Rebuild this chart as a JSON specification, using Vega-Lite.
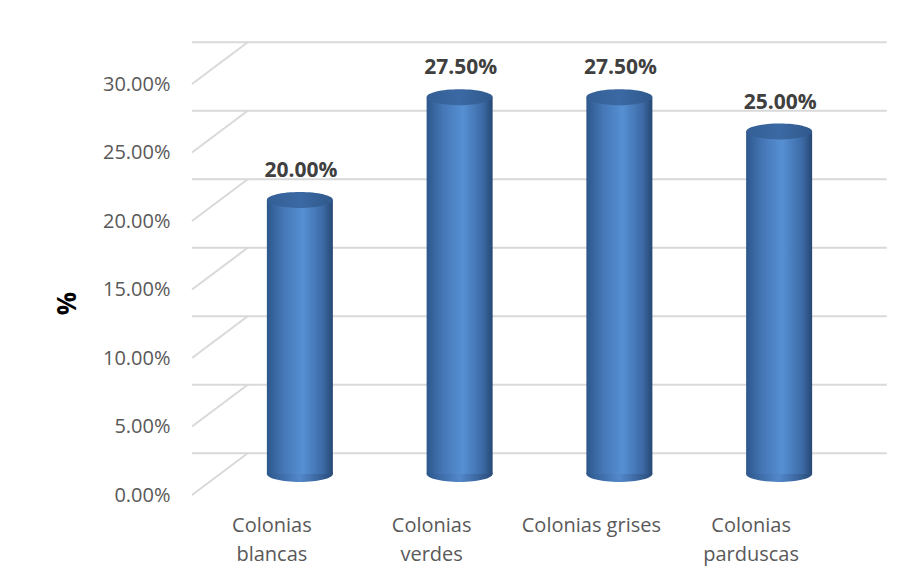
{
  "$schema": "https://vega.github.io/schema/vega-lite/v6.json",
  "width": 639,
  "height": 411,
  "autosize": {"type": "none"},
  "padding": {"left": 192, "top": 84, "right": 92, "bottom": 89},
  "background": "white",
  "config": {"view": {"stroke": null}, "font": "Open Sans"},
  "datasets": {
    "bars": [
      {"categoria": "Colonias blancas", "pct": 0.20},
      {"categoria": "Colonias verdes", "pct": 0.275},
      {"categoria": "Colonias grises", "pct": 0.275},
      {"categoria": "Colonias parduscas", "pct": 0.25}
    ],
    "ticks": [
      {"v": 0}, {"v": 0.05}, {"v": 0.10}, {"v": 0.15}, {"v": 0.20}, {"v": 0.25}, {"v": 0.30}
    ]
  },
  "layer": [
    {
      "data": {"name": "ticks"},
      "mark": {"type": "rule", "color": "#d9d9d9", "strokeWidth": 2, "yOffset": -41.7, "xOffset": 55.7},
      "encoding": {
        "y": {"field": "v", "type": "quantitative", "scale": {"domain": [0, 0.3], "nice": false}, "axis": {
          "values": [0, 0.05, 0.1, 0.15, 0.2, 0.25, 0.3],
          "format": ".2%",
          "grid": false, "domain": false, "ticks": false,
          "labelFontSize": 20, "labelColor": "#595959", "labelPadding": 22,
          "title": "%", "titleFontSize": 26, "titleFontWeight": "bold", "titleColor": "#000000",
          "titleX": -125, "titleY": 219, "titleAlign": "center", "titleBaseline": "middle", "titleAngle": -90
        }}
      }
    },
    {
      "data": {"name": "ticks"},
      "mark": {"type": "rule", "color": "#d9d9d9", "strokeWidth": 2, "y2Offset": -41.7},
      "encoding": {
        "x": {"value": 0},
        "x2": {"value": 55.7},
        "y": {"field": "v", "type": "quantitative"},
        "y2": {"field": "v"}
      }
    },
    {
      "data": {"name": "bars"},
      "encoding": {
        "x": {"field": "categoria", "type": "nominal", "sort": null,
          "scale": {"paddingInner": 0, "paddingOuter": 0},
          "axis": {
            "title": null, "domain": false, "ticks": false, "labelAngle": 0,
            "labelFontSize": 20, "labelColor": "#595959", "labelPadding": 20,
            "labelLineHeight": 29,
            "labelExpr": "datum.label == 'Colonias grises' ? datum.label : split(datum.label, ' ')"
          }
        }
      },
      "layer": [
        {
          "mark": {"type": "point", "filled": true, "opacity": 1, "size": 4356, "xOffset": 28, "yOffset": -21,
            "shape": "M -1 0 A 1 0.24 0 1 0 1 0 A 1 0.24 0 1 0 -1 0 Z",
            "color": {"gradient": "linear", "x1": 0, "x2": 1, "y1": 0, "y2": 0, "stops": [
              {"offset": 0, "color": "#2d578c"}, {"offset": 0.5, "color": "#5288cb"}, {"offset": 1, "color": "#284a78"}]}},
          "encoding": {"y": {"datum": 0, "type": "quantitative"}}
        },
        {
          "mark": {"type": "bar", "size": 66, "xOffset": 28, "yOffset": -21, "y2Offset": -21,
            "color": {"gradient": "linear", "x1": 0, "x2": 1, "y1": 0, "y2": 0, "stops": [
              {"offset": 0, "color": "#2d578c"}, {"offset": 0.25, "color": "#4577b6"}, {"offset": 0.55, "color": "#5690d3"}, {"offset": 0.85, "color": "#3c6aa6"}, {"offset": 1, "color": "#274874"}]}},
          "encoding": {
            "y": {"field": "pct", "type": "quantitative"},
            "y2": {"datum": 0}
          }
        },
        {
          "mark": {"type": "point", "filled": true, "opacity": 1, "size": 4356, "xOffset": 28, "yOffset": -21,
            "shape": "M -1 0 A 1 0.24 0 1 0 1 0 A 1 0.24 0 1 0 -1 0 Z",
            "color": {"gradient": "linear", "x1": 0, "x2": 1, "y1": 0, "y2": 0, "stops": [
              {"offset": 0, "color": "#345f96"}, {"offset": 0.5, "color": "#3b69a3"}, {"offset": 1, "color": "#30598c"}]}},
          "encoding": {"y": {"field": "pct", "type": "quantitative"}}
        },
        {
          "mark": {"type": "text", "xOffset": 29, "yOffset": -50, "baseline": "middle", "align": "center",
            "fontSize": 21, "fontWeight": "bold", "color": "#404040"},
          "encoding": {
            "y": {"field": "pct", "type": "quantitative"},
            "text": {"field": "pct", "type": "quantitative", "format": ".2%"}
          }
        }
      ]
    }
  ]
}
